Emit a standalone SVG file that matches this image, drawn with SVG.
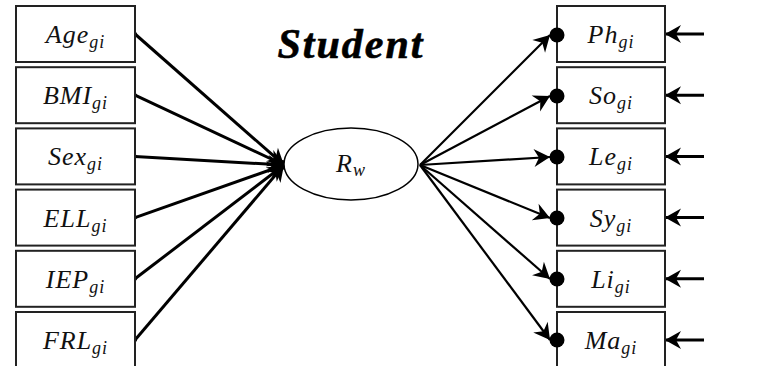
<svg xmlns="http://www.w3.org/2000/svg" width="762" height="366" viewBox="0 0 762 366">
<style>
.box{fill:#fff;stroke:#222;stroke-width:2}
.lbl{font-family:"Liberation Serif",serif;font-style:italic;font-size:26px;fill:#111;text-anchor:middle;letter-spacing:1px}
.sub{font-size:18px}
.ln{stroke:#000;fill:none}
.dot{fill:#000}
</style>
<defs>
<marker id="ah" markerUnits="userSpaceOnUse" markerWidth="22" markerHeight="22" refX="0" refY="0" viewBox="-18 -11 22 22" orient="auto">
<path d="M0,0 L-16,-9 L-11,0 L-16,9 Z" fill="#000"/>
</marker>
</defs>
<rect width="762" height="366" fill="#fff"/>
<text x="351" y="58" font-family="Liberation Serif,serif" font-style="italic" font-weight="bold" font-size="42" letter-spacing="2" text-anchor="middle" fill="#000" stroke="#000" stroke-width="0.6">Student</text>
<g id="connectors">
<g class="ln" stroke-width="3">
<line x1="135" y1="34" x2="284" y2="165" marker-end="url(#ah)"/>
<line x1="135" y1="95.2" x2="284" y2="165" marker-end="url(#ah)"/>
<line x1="135" y1="156.4" x2="284" y2="165" marker-end="url(#ah)"/>
<line x1="135" y1="217.6" x2="284" y2="165" marker-end="url(#ah)"/>
<line x1="135" y1="278.8" x2="284" y2="165" marker-end="url(#ah)"/>
<line x1="135" y1="340" x2="284" y2="165" marker-end="url(#ah)"/>
</g>
<g class="dot">
<circle cx="135" cy="34" r="2"/><circle cx="135" cy="95.2" r="2"/><circle cx="135" cy="156.4" r="2"/>
<circle cx="135" cy="217.6" r="2"/><circle cx="135" cy="278.8" r="2"/><circle cx="135" cy="340" r="2"/>
<circle cx="282" cy="165" r="5"/>
</g>
<g class="ln" stroke-width="2.2">
<line x1="420" y1="165" x2="550" y2="35" marker-end="url(#ah)"/>
<line x1="420" y1="165" x2="550" y2="96" marker-end="url(#ah)"/>
<line x1="420" y1="165" x2="550" y2="157" marker-end="url(#ah)"/>
<line x1="420" y1="165" x2="550" y2="218" marker-end="url(#ah)"/>
<line x1="420" y1="165" x2="550" y2="279" marker-end="url(#ah)"/>
<line x1="420" y1="165" x2="550" y2="340" marker-end="url(#ah)"/>
</g>
<g class="ln" stroke-width="3">
<line x1="704" y1="34" x2="665" y2="34" marker-end="url(#ah)"/>
<line x1="704" y1="95.2" x2="665" y2="95.2" marker-end="url(#ah)"/>
<line x1="704" y1="156.4" x2="665" y2="156.4" marker-end="url(#ah)"/>
<line x1="704" y1="217.6" x2="665" y2="217.6" marker-end="url(#ah)"/>
<line x1="704" y1="278.8" x2="665" y2="278.8" marker-end="url(#ah)"/>
<line x1="704" y1="340" x2="665" y2="340" marker-end="url(#ah)"/>
</g>
</g>
<g id="age"><rect class="box" x="16" y="6" width="119" height="56"/><text class="lbl" x="75.5" y="43">Age<tspan class="sub" dy="5">gi</tspan></text></g>
<g id="bmi"><rect class="box" x="16" y="67.2" width="119" height="56"/><text class="lbl" x="75.5" y="104.2">BMI<tspan class="sub" dy="5">gi</tspan></text></g>
<g id="sex"><rect class="box" x="16" y="128.4" width="119" height="56"/><text class="lbl" x="75.5" y="165.4">Sex<tspan class="sub" dy="5">gi</tspan></text></g>
<g id="ell"><rect class="box" x="16" y="189.6" width="119" height="56"/><text class="lbl" x="75.5" y="226.6">ELL<tspan class="sub" dy="5">gi</tspan></text></g>
<g id="iep"><rect class="box" x="16" y="250.8" width="119" height="56"/><text class="lbl" x="75.5" y="287.8">IEP<tspan class="sub" dy="5">gi</tspan></text></g>
<g id="frl"><rect class="box" x="16" y="312" width="119" height="56"/><text class="lbl" x="75.5" y="349">FRL<tspan class="sub" dy="5">gi</tspan></text></g>
<g id="rw"><ellipse cx="351" cy="164" rx="67" ry="36" fill="#fff" stroke="#000" stroke-width="1.5"/><text class="lbl" x="351" y="172">R<tspan class="sub" dy="4">w</tspan></text></g>
<g id="ph"><rect class="box" x="557" y="6" width="108" height="56"/><text class="lbl" x="611" y="43">Ph<tspan class="sub" dy="5">gi</tspan></text><circle class="dot" cx="557" cy="35" r="7.5"/></g>
<g id="so"><rect class="box" x="557" y="67.2" width="108" height="56"/><text class="lbl" x="611" y="104.2">So<tspan class="sub" dy="5">gi</tspan></text><circle class="dot" cx="557" cy="96" r="7.5"/></g>
<g id="le"><rect class="box" x="557" y="128.4" width="108" height="56"/><text class="lbl" x="611" y="165.4">Le<tspan class="sub" dy="5">gi</tspan></text><circle class="dot" cx="557" cy="157" r="7.5"/></g>
<g id="sy"><rect class="box" x="557" y="189.6" width="108" height="56"/><text class="lbl" x="611" y="226.6">Sy<tspan class="sub" dy="5">gi</tspan></text><circle class="dot" cx="557" cy="218" r="7.5"/></g>
<g id="li"><rect class="box" x="557" y="250.8" width="108" height="56"/><text class="lbl" x="611" y="287.8">Li<tspan class="sub" dy="5">gi</tspan></text><circle class="dot" cx="557" cy="279" r="7.5"/></g>
<g id="ma"><rect class="box" x="557" y="312" width="108" height="56"/><text class="lbl" x="611" y="349">Ma<tspan class="sub" dy="5">gi</tspan></text><circle class="dot" cx="557" cy="340" r="7.5"/></g>
</svg>
